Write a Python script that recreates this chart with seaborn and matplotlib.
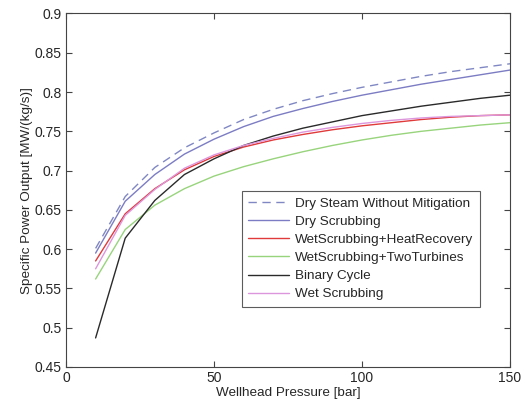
import numpy as np
import pandas as pd
import matplotlib
matplotlib.use("Agg")
import matplotlib.pyplot as plt
import seaborn as sns

# Wellhead pressure [bar]
pressure = [10, 20, 30, 40, 50, 60, 70, 80, 90, 100, 110, 120, 130, 140, 150]

# Specific power output [MW/(kg/s)]
dry_steam = [0.601, 0.667, 0.704, 0.729, 0.748, 0.765, 0.778, 0.789, 0.798, 0.806, 0.813, 0.820, 0.826, 0.831, 0.836]
dry_scrub = [0.595, 0.661, 0.695, 0.721, 0.740, 0.756, 0.769, 0.779, 0.788, 0.796, 0.803, 0.810, 0.816, 0.822, 0.828]
wet_heat = [0.585, 0.645, 0.677, 0.701, 0.718, 0.730, 0.739, 0.746, 0.752, 0.757, 0.761, 0.765, 0.768, 0.770, 0.771]
wet_two = [0.562, 0.625, 0.656, 0.677, 0.693, 0.705, 0.715, 0.724, 0.732, 0.739, 0.745, 0.750, 0.754, 0.758, 0.761]
binary = [0.487, 0.614, 0.662, 0.695, 0.715, 0.732, 0.744, 0.754, 0.762, 0.770, 0.776, 0.782, 0.787, 0.792, 0.796]
wet_scrub = [0.575, 0.643, 0.676, 0.703, 0.720, 0.732, 0.741, 0.749, 0.755, 0.760, 0.764, 0.767, 0.769, 0.770, 0.771]

names = ["Dry Steam Without Mitigation", "Dry Scrubbing", "WetScrubbing+HeatRecovery",
         "WetScrubbing+TwoTurbines", "Binary Cycle", "Wet Scrubbing"]
series = [dry_steam, dry_scrub, wet_heat, wet_two, binary, wet_scrub]
colors = ["#8088c4", "#7c7cc4", "#e03a3a", "#98d47c", "#2a2a2a", "#dc96dc"]
styles = [(0, (6, 4)), "-", "-", "-", "-", "-"]

sns.set_style("white")
plt.rcParams['font.family'] = ['Liberation Sans', 'DejaVu Sans']

fig = plt.figure(figsize=(5.26, 4.04), dpi=100)
ax = fig.add_axes([0.1255, 0.0916, 0.8441, 0.875])

for name, vals, c, ls in zip(names, series, colors, styles):
    df = pd.DataFrame({"p": pressure, "w": vals})
    sns.lineplot(data=df, x="p", y="w", ax=ax, color=c, linestyle=ls, lw=1.0, label=name)

ax.set_xlim(0, 150)
ax.set_ylim(0.45, 0.9)
ax.set_xticks([0, 50, 100, 150])
ax.set_yticks(np.arange(0.45, 0.901, 0.05))
ax.set_yticklabels(["0.45", "0.5", "0.55", "0.6", "0.65", "0.7", "0.75", "0.8", "0.85", "0.9"])
ax.tick_params(direction="in", bottom=True, left=True, top=True, right=True, labelsize=10,
               length=4, width=0.8, color="#444444", pad=3)
for s in ax.spines.values():
    s.set_color("#444444")
    s.set_linewidth(0.8)
ax.set_xlabel("Wellhead Pressure [bar]", fontsize=9.7, labelpad=1)
ax.set_ylabel("Specific Power Output [MW/(kg/s)]", fontsize=9.7, labelpad=1)

leg = ax.legend(loc="center", bbox_to_anchor=(0.664, 0.334), fontsize=9.7, frameon=True,
                fancybox=False, handlelength=3.0, handletextpad=0.45, labelspacing=0.42,
                borderpad=0.5)
leg.get_frame().set_edgecolor("#333333")
leg.get_frame().set_linewidth(0.8)

fig.savefig("out.png", dpi=100)
